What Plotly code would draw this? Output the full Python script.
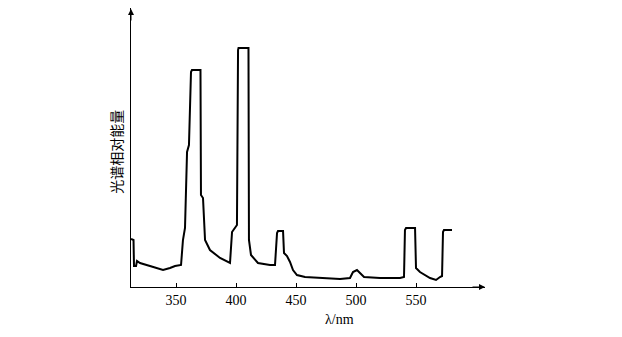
import plotly.graph_objects as go

# Wavelength (nm) and relative spectral energy (arbitrary units)
wavelength = [312.5, 314.6, 315.0, 316.7, 317.5, 320.0, 328.3, 339.2, 345.0, 349.2, 354.2,
              355.8, 357.5, 359.2, 360.8, 362.5, 363.3, 370.4, 370.8, 372.5, 374.2, 378.3,
              386.7, 395.0, 396.7, 399.2, 400.8, 401.7, 402.1, 410.4, 410.8, 412.5, 418.3,
              428.3, 432.5, 434.2, 435.0, 439.2, 440.0, 442.5, 445.0, 447.5, 450.8, 457.5,
              470.0, 486.7, 495.0, 497.5, 500.8, 503.3, 506.7, 520.0, 536.7, 540.0, 540.8,
              541.7, 549.2, 550.0, 553.3, 561.7, 566.7, 570.0, 571.7, 572.5, 573.3, 580.0]
energy = [48, 47, 21, 21, 26, 24, 21, 17, 19, 21, 22,
          47, 59, 135, 142, 215, 217, 217, 92, 89, 47, 37,
          29, 24, 55, 60, 62, 237, 239, 239, 47, 32, 24,
          22, 22, 54, 56, 56, 34, 31, 25, 17, 12, 10,
          9, 8, 9, 15, 17, 14, 10, 9, 9, 10, 57,
          59, 59, 19, 15, 9, 7, 10, 11, 55, 57, 57]

x_ticks = [350, 400, 450, 500, 550]
x_title = "λ/nm"
y_title = "光谱相对能量"

fig = go.Figure()
fig.add_trace(go.Scatter(x=wavelength, y=energy, mode="lines",
                         line=dict(color="black", width=2), hoverinfo="skip",
                         showlegend=False))

fig.update_layout(
    width=622, height=337,
    margin=dict(l=123, r=145, t=0, b=58),
    plot_bgcolor="white", paper_bgcolor="white",
    xaxis=dict(range=[312.5, 607.5], showgrid=False, zeroline=False,
               showline=True, linecolor="black", linewidth=1,
               tickmode="array", tickvals=x_ticks, ticktext=[str(t) for t in x_ticks],
               ticks="inside", ticklen=4, tickcolor="black",
               tickfont=dict(family="Liberation Serif", size=14, color="black")),
    yaxis=dict(range=[0, 279], showgrid=False, zeroline=False,
               showline=True, linecolor="black", linewidth=1,
               showticklabels=False, ticks=""),
    annotations=[
        dict(x=0, y=1, xref="paper", yref="paper", ax=0, ay=14, axref="pixel", ayref="pixel",
             showarrow=True, arrowhead=2, arrowsize=1.2, arrowwidth=1, arrowcolor="black", text=""),
        dict(x=1, y=0, xref="paper", yref="paper", ax=-14, ay=0, axref="pixel", ayref="pixel",
             showarrow=True, arrowhead=2, arrowsize=1.2, arrowwidth=1, arrowcolor="black", text=""),
        dict(x=0.59, y=-0.118, xref="paper", yref="paper", text=x_title, showarrow=False,
             xanchor="center", yanchor="middle",
             font=dict(family="Liberation Serif", size=14, color="black")),
        dict(x=-0.042, y=0.485, xref="paper", yref="paper", text=y_title, showarrow=False,
             xanchor="center", yanchor="middle",
             textangle=-90, font=dict(family="Noto Sans CJK SC", size=14, color="black")),
    ],
)

fig.write_html("out.html")
